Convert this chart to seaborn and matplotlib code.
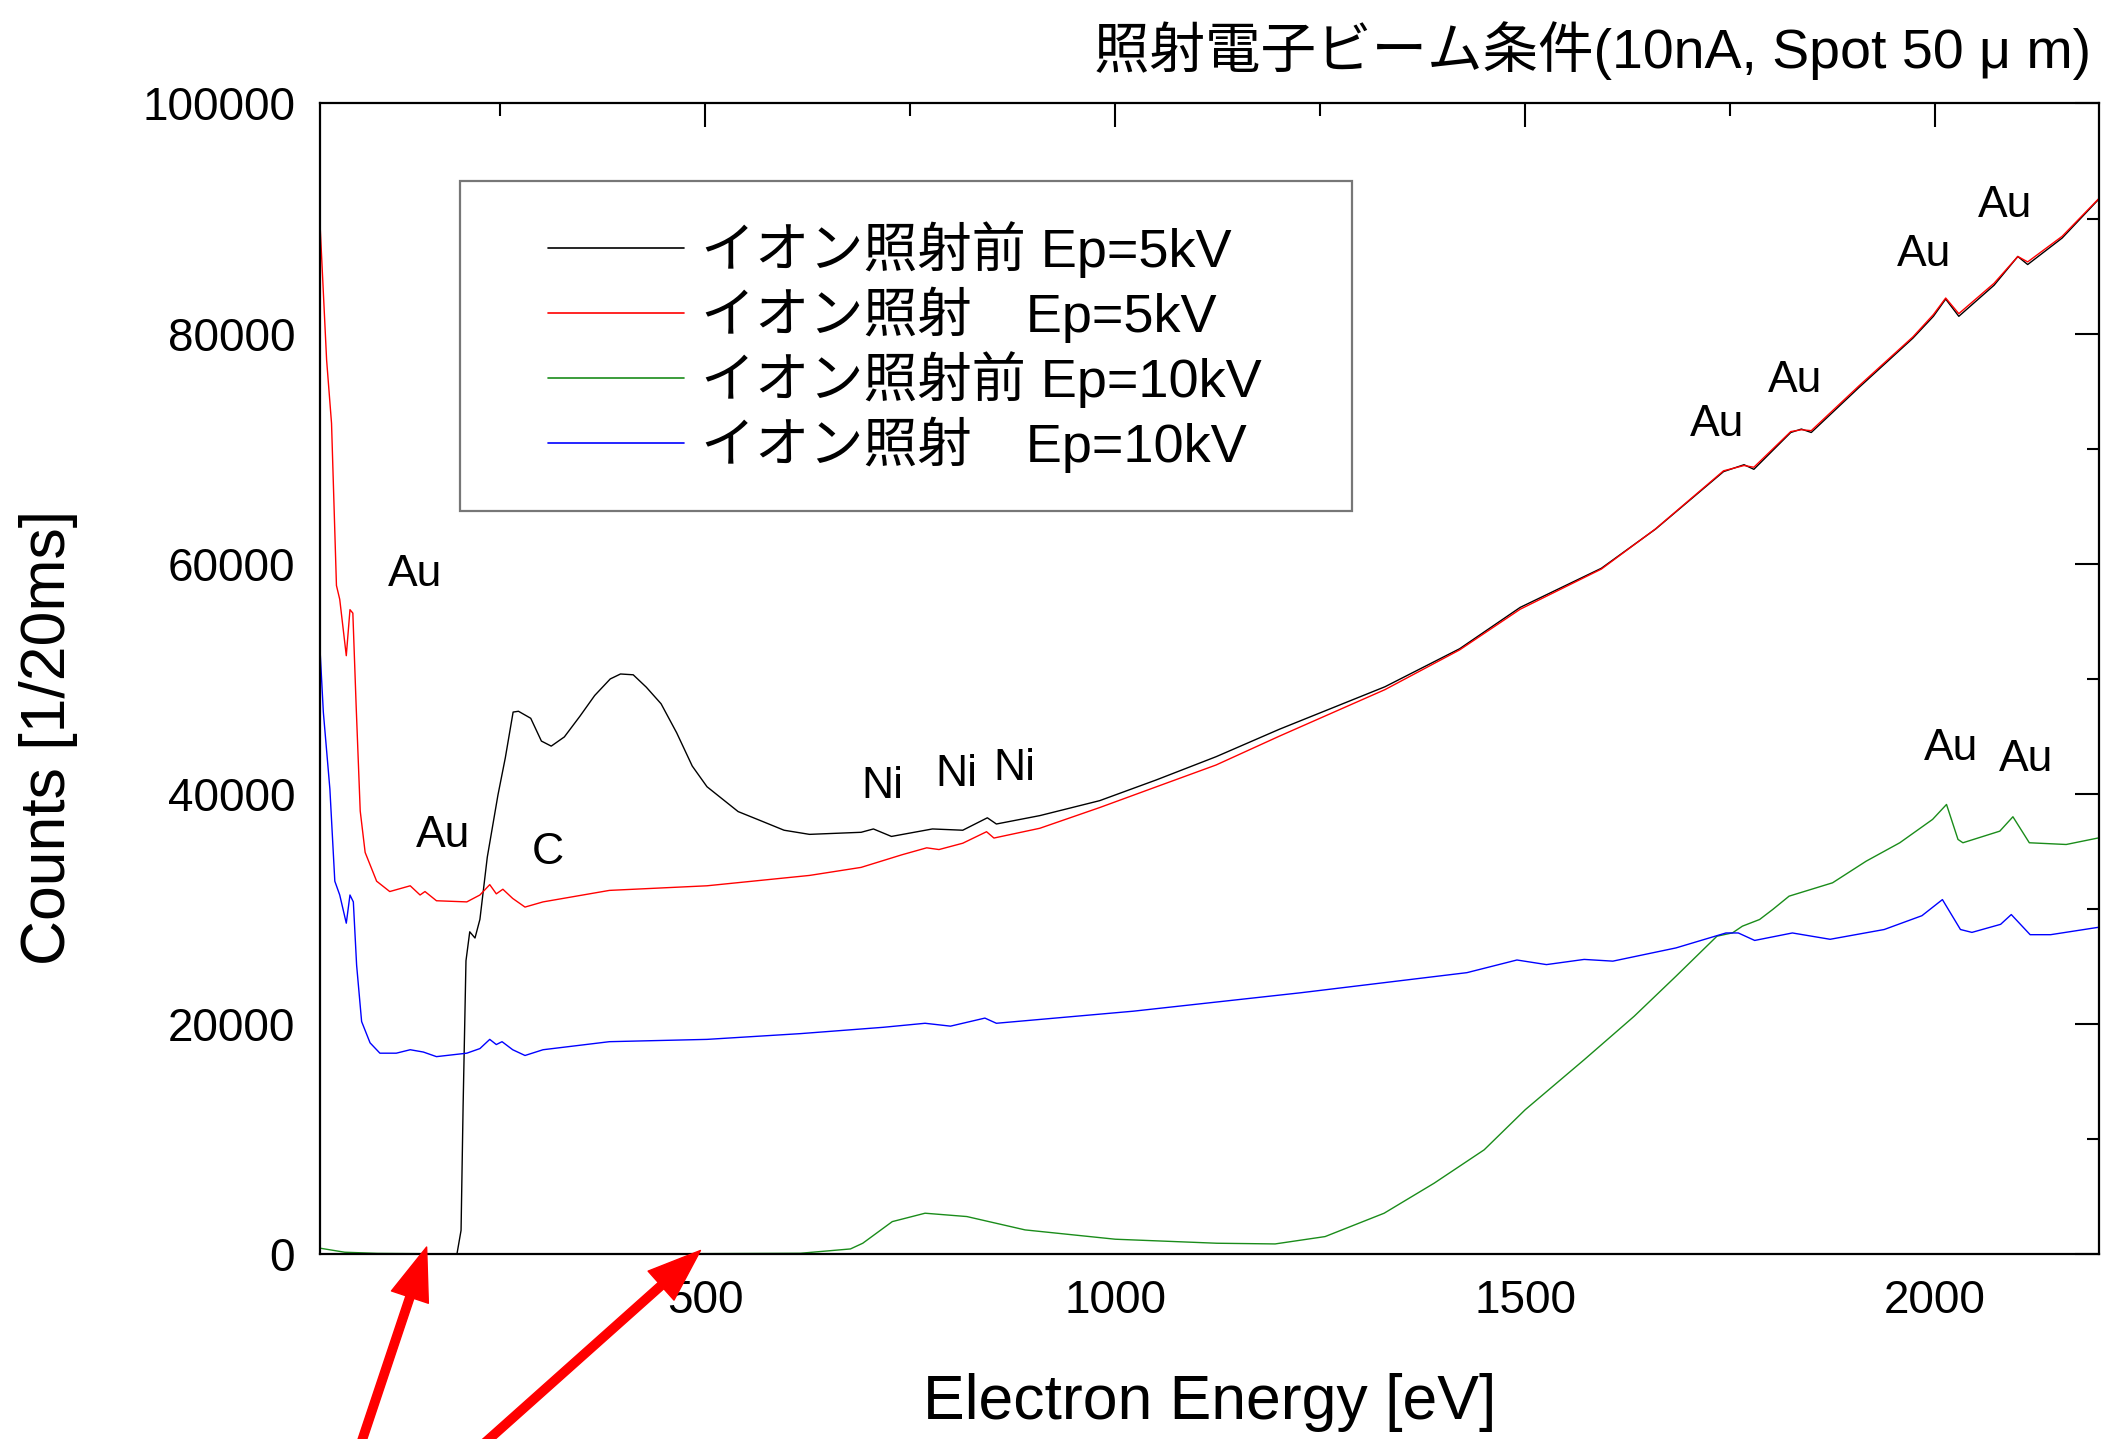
import numpy as np
import pandas as pd
import matplotlib
matplotlib.use("Agg")
import matplotlib.pyplot as plt
from matplotlib.patches import Rectangle
from matplotlib.ticker import MultipleLocator
import seaborn as sns

# spectra (eV, counts per 20 ms)
black_x = [30, 100, 197, 202, 204.5, 208, 212.6, 219, 225, 234, 247, 256, 265.5, 272, 287, 300,
           312, 328, 347, 365, 384, 396.5, 412, 428, 446, 465, 484, 502, 521, 540, 565, 596, 627,
           690, 705, 727, 777, 814, 844, 855, 908, 981, 1050, 1123, 1200, 1329, 1420, 1494, 1593,
           1659, 1742, 1767, 1779, 1824, 1837, 1849, 1907, 1973, 1998, 2013, 2029, 2072, 2101,
           2113, 2155, 2200]
black_y = [0, 0, 0, 2050, 12860, 25480, 28000, 27460, 29080, 34490, 39890, 43130, 47100, 47170,
           46560, 44580, 44140, 44940, 46740, 48540, 49980, 50410, 50340, 49260, 47820, 45300,
           42410, 40610, 39530, 38450, 37730, 36830, 36470, 36650, 36940, 36290, 36940, 36830,
           37910, 37370, 38100, 39400, 41200, 43220, 45600, 49300, 52600, 56200, 59600, 63000,
           68000, 68600, 68200, 71400, 71700, 71400, 75300, 79600, 81500, 83000, 81500, 84200,
           86700, 86000, 88300, 91700]

red_x = [30, 38, 44, 50, 54, 62, 66.5, 70, 74, 79, 85, 99, 115, 140, 152, 158, 172, 209, 225, 237,
         245, 253, 265, 280, 302, 383, 502, 627, 690, 740, 770, 785, 814, 843, 852, 908, 981,
         1050, 1123, 1200, 1329, 1420, 1494, 1593, 1659, 1742, 1767, 1779, 1824, 1837, 1849,
         1907, 1973, 1998, 2013, 2029, 2072, 2101, 2113, 2155, 2200]
red_y = [89500, 77700, 72200, 58100, 56900, 52000, 56000, 55700, 47700, 38500, 34900, 32400,
         31500, 32000, 31200, 31500, 30700, 30600, 31200, 32100, 31300, 31700, 30900, 30150,
         30600, 31600, 32000, 32900, 33600, 34700, 35300, 35150, 35700, 36700, 36150, 37000,
         38800, 40600, 42500, 45000, 49050, 52500, 56040, 59530, 63020, 68070, 68530, 68380,
         71480, 71640, 71560, 75440, 79710, 81650, 83090, 81730, 84370, 86700, 86230, 88450,
         91750]

green_x = [30, 60, 100, 200, 400, 616, 677, 692, 728, 768, 819, 890, 1000, 1124, 1195, 1256, 1328,
           1389, 1450, 1500, 1572, 1633, 1684, 1734, 1753, 1765, 1786, 1802, 1822, 1875, 1916,
           1957, 1997, 2014, 2028, 2034, 2079, 2095, 2115, 2160, 2200]
green_y = [500, 150, 50, 0, 0, 60, 435, 930, 2810, 3540, 3250, 2090, 1280, 930, 870, 1510, 3540,
           6150, 9050, 12530, 16880, 20660, 24140, 27620, 27910, 28490, 29070, 29940, 31100,
           32260, 34140, 35740, 37770, 39070, 36030, 35740, 36750, 38000, 35740, 35590, 36170]

blue_x = [30, 34, 42, 48, 54, 62, 66.5, 70.6, 74.6, 80.7, 91, 103, 123, 140, 156, 172, 209, 225,
          237, 245, 252, 265, 280, 302, 383, 502, 616, 717, 768, 799, 841, 855, 1022, 1226, 1429,
          1490, 1526, 1572, 1607, 1684, 1745, 1760, 1780, 1826, 1872, 1938, 1984, 2009, 2031,
          2045, 2080, 2093, 2116, 2141, 2200]
blue_y = [52500, 47100, 40400, 32400, 31200, 28750, 31200, 30600, 25100, 20200, 18350, 17450,
          17450, 17750, 17550, 17150, 17450, 17850, 18650, 18200, 18450, 17750, 17250, 17750,
          18450, 18650, 19150, 19700, 20050, 19800, 20500, 20050, 21100, 22700, 24450, 25550,
          25150, 25600, 25450, 26600, 27900, 27900, 27250, 27900, 27350, 28200, 29400, 30800,
          28200, 27950, 28650, 29500, 27750, 27750, 28400]

labels = ["イオン照射前 Ep=5kV", "イオン照射\u3000Ep=5kV",
          "イオン照射前 Ep=10kV", "イオン照射\u3000Ep=10kV"]
colors = ["black", "#ff0000", "#1a8c1a", "#0000ff"]

peak_names = ["Au", "Au", "C", "Ni", "Ni", "Ni", "Au", "Au", "Au", "Au", "Au", "Au"]
peak_x = [146, 180, 308, 716, 806, 877, 1734, 1829, 1987, 2085, 2020, 2111]
peak_y = [59100, 36330, 34930, 40650, 41700, 42170, 72080, 75930, 86900, 91110, 43920, 42990]

sns.set_style("white")
plt.rcParams["font.family"] = ["Liberation Sans", "Noto Sans CJK JP"]
plt.rcParams["text.color"] = "black"
plt.rcParams["axes.labelcolor"] = "black"

fig = plt.figure(figsize=(21.07, 14.39), dpi=100)
ax = fig.add_axes([0.1519, 0.1286, 0.8443, 0.7995])

series = [(black_x, black_y), (red_x, red_y), (green_x, green_y), (blue_x, blue_y)]
for (xs, ys), lab, col in zip(series, labels, colors):
    df = pd.DataFrame({"energy": xs, "counts": ys})
    sns.lineplot(data=df, x="energy", y="counts", color=col, lw=1.0, label=lab,
                 estimator=None, ax=ax)

ax.set_xlim(30, 2200)
ax.set_ylim(0, 100000)
ax.xaxis.set_major_locator(MultipleLocator(500))
ax.xaxis.set_minor_locator(MultipleLocator(250))
ax.yaxis.set_major_locator(MultipleLocator(20000))
ax.yaxis.set_minor_locator(MultipleLocator(10000))
ax.tick_params(which="both", direction="in", top=True, right=True, width=1.5,
               labelsize=33, pad=18, colors="black")
ax.tick_params(which="major", length=17)
ax.tick_params(which="minor", length=9)
for sp in ax.spines.values():
    sp.set_color("black")
    sp.set_linewidth(1.6)

ax.set_xlabel("Electron Energy [eV]", fontsize=45, labelpad=36)
ax.set_ylabel("Counts [1/20ms]", fontsize=45)
ax.yaxis.set_label_coords(-0.136, 0.4486)

for name, px, py in zip(peak_names, peak_x, peak_y):
    ax.text(px, py, name, fontsize=32, ha="center", va="center")

# legend without frame, box drawn separately so padding can differ per side
leg = ax.legend(loc="center left", bbox_to_anchor=(0.1282, 0.7884), frameon=False,
                fontsize=39, handlelength=2.5, handletextpad=0.33, labelspacing=0.16,
                borderpad=0, borderaxespad=0)
for line in leg.get_lines():
    line.set_linewidth(1.2)
ax.add_patch(Rectangle((0.0787, 0.6458), 0.5014, 0.2868, transform=ax.transAxes,
                       fill=False, ec="#777777", lw=1.6, zorder=5))

fig.text(0.9925, 0.965, "照射電子ビーム条件(10nA, Spot 50 μ m)", fontsize=40,
         ha="right", va="center")

# red arrows pointing at the baseline
arrow_kw = dict(facecolor="red", edgecolor="red", width=6, headwidth=28, headlength=38, shrink=0)
ax.annotate("", xy=(160, 600), xycoords="data", xytext=(0.1709, -0.005),
            textcoords="figure fraction", arrowprops=arrow_kw, annotation_clip=False)
ax.annotate("", xy=(494, 300), xycoords="data", xytext=(0.2283, -0.005),
            textcoords="figure fraction", arrowprops=arrow_kw, annotation_clip=False)

fig.savefig("out.png", dpi=100)
